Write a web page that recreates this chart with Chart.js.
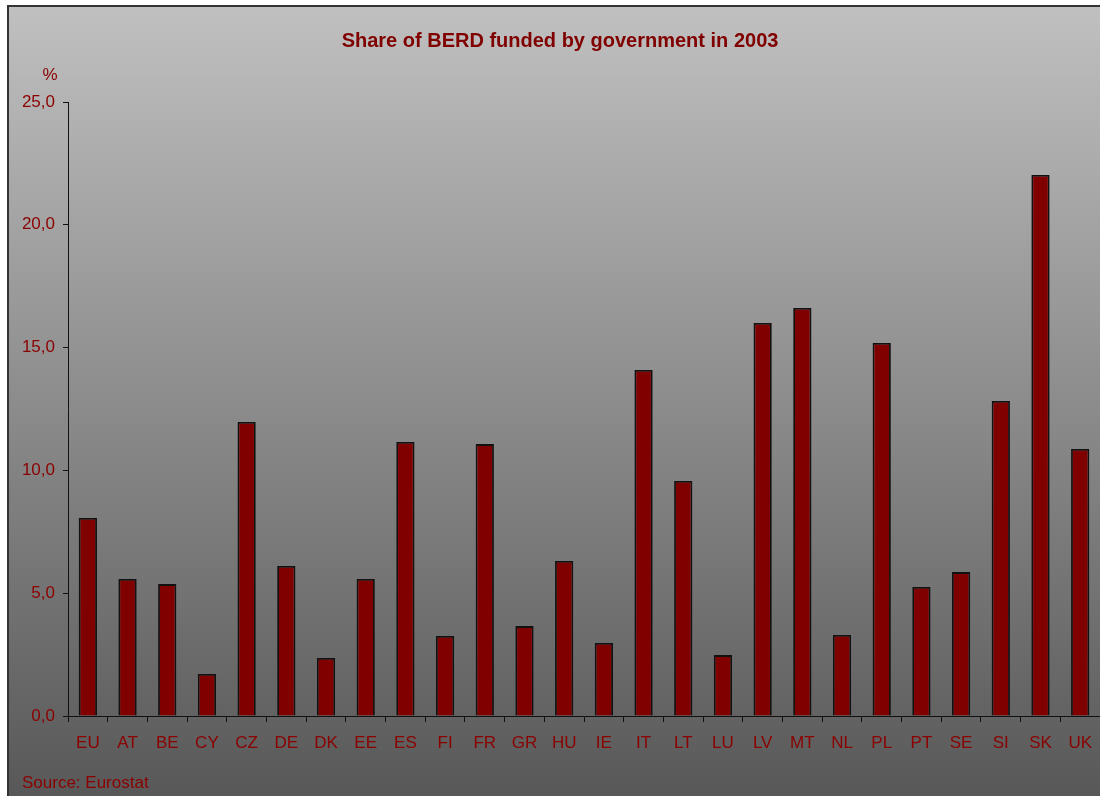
<!DOCTYPE html>
<html>
<head>
<meta charset="utf-8">
<script src="https://cdn.jsdelivr.net/npm/chart.js@4/dist/chart.umd.min.js"></script>
<style>
  html, body { margin: 0; padding: 0; background: #fff; overflow: hidden; width: 1100px; height: 796px; }
  #wrap { position: absolute; left: 0; top: 0; width: 1103px; height: 796px; }
</style>
</head>
<body>
<div id="wrap"><canvas id="myChart"></canvas></div>
<script>
// data
const categories = ['EU', 'AT', 'BE', 'CY', 'CZ', 'DE', 'DK', 'EE', 'ES', 'FI', 'FR', 'GR', 'HU',
    'IE', 'IT', 'LT', 'LU', 'LV', 'MT', 'NL', 'PL', 'PT', 'SE', 'SI', 'SK', 'UK'];
const shareGov = [8.06, 5.58, 5.37, 1.71, 11.97, 6.11, 2.36, 5.58, 11.16, 3.26, 11.07, 3.66, 6.31,
    2.97, 14.09, 9.57, 2.48, 16.0, 16.61, 3.30, 15.19, 5.25, 5.86, 12.83, 22.03, 10.87];
const yTicks = [0, 5, 10, 15, 20, 25];

const titleText = 'Share of BERD funded by government in 2003';
const unitText = '%';
const sourceText = 'Source: Eurostat';
const darkRed = '#8b0000';
const fontFam = '"Liberation Sans", Arial, sans-serif';

const frame = {
    id: 'frame',
    beforeDraw(chart) {
        const ctx = chart.ctx;
        ctx.save();
        const g = ctx.createLinearGradient(0, 6, 0, 796);
        g.addColorStop(0, '#c0c0c0');
        g.addColorStop(1, '#585858');
        ctx.fillStyle = g;
        ctx.fillRect(8, 6, 1100, 796);
        ctx.strokeStyle = '#333333';
        ctx.lineWidth = 2;
        ctx.strokeRect(8, 6, 1100, 800);
        ctx.restore();
    },
    afterDraw(chart) {
        const ctx = chart.ctx;
        ctx.save();
        ctx.fillStyle = '#800000';
        ctx.font = 'bold 20px ' + fontFam;
        ctx.textAlign = 'center';
        ctx.textBaseline = 'middle';
        ctx.fillText(titleText, 560, 41);
        ctx.fillStyle = darkRed;
        ctx.font = '17px ' + fontFam;
        ctx.fillText(unitText, 50, chart.chartArea.top - 27);
        ctx.textAlign = 'left';
        ctx.fillText(sourceText, 22, 783);
        ctx.restore();
    }
};

const myChartRef = document.getElementById('myChart').getContext('2d');
new Chart(myChartRef, {
    type: 'bar',
    data: {
        labels: categories,
        datasets: [{
            data: shareGov,
            backgroundColor: '#800000',
            borderColor: '#111111',
            borderWidth: 1.8,
            barPercentage: 0.46,
            categoryPercentage: 1.0
        }]
    },
    options: {
        responsive: true,
        maintainAspectRatio: false,
        animation: false,
        layout: { padding: { top: 102, left: 0, right: 0, bottom: 0 } },
        plugins: {
            legend: { display: false },
            tooltip: { enabled: false },
            title: { display: false }
        },
        scales: {
            x: {
                grid: { display: true, drawOnChartArea: false, offset: true, color: '#111', tickLength: 6, lineWidth: 1 },
                border: { display: true, color: '#111', width: 1 },
                ticks: {
                    color: darkRed,
                    padding: 11,
                    font: { family: fontFam, size: 17 },
                    maxRotation: 0,
                    autoSkip: false
                },
                afterFit(scale) { scale.height = 80; }
            },
            y: {
                min: 0,
                max: 25,
                afterBuildTicks(scale) { scale.ticks = yTicks.map(v => ({ value: v })); },
                grid: { display: true, drawOnChartArea: false, color: '#111', tickLength: 5 },
                border: { display: true, color: '#111', width: 1 },
                ticks: {
                    color: darkRed,
                    padding: 8,
                    font: { family: fontFam, size: 17 },
                    callback: v => v.toFixed(1).replace('.', ',')
                },
                afterFit(scale) { scale.width = 68; }
            }
        }
    },
    plugins: [frame]
});
</script>
</body>
</html>
